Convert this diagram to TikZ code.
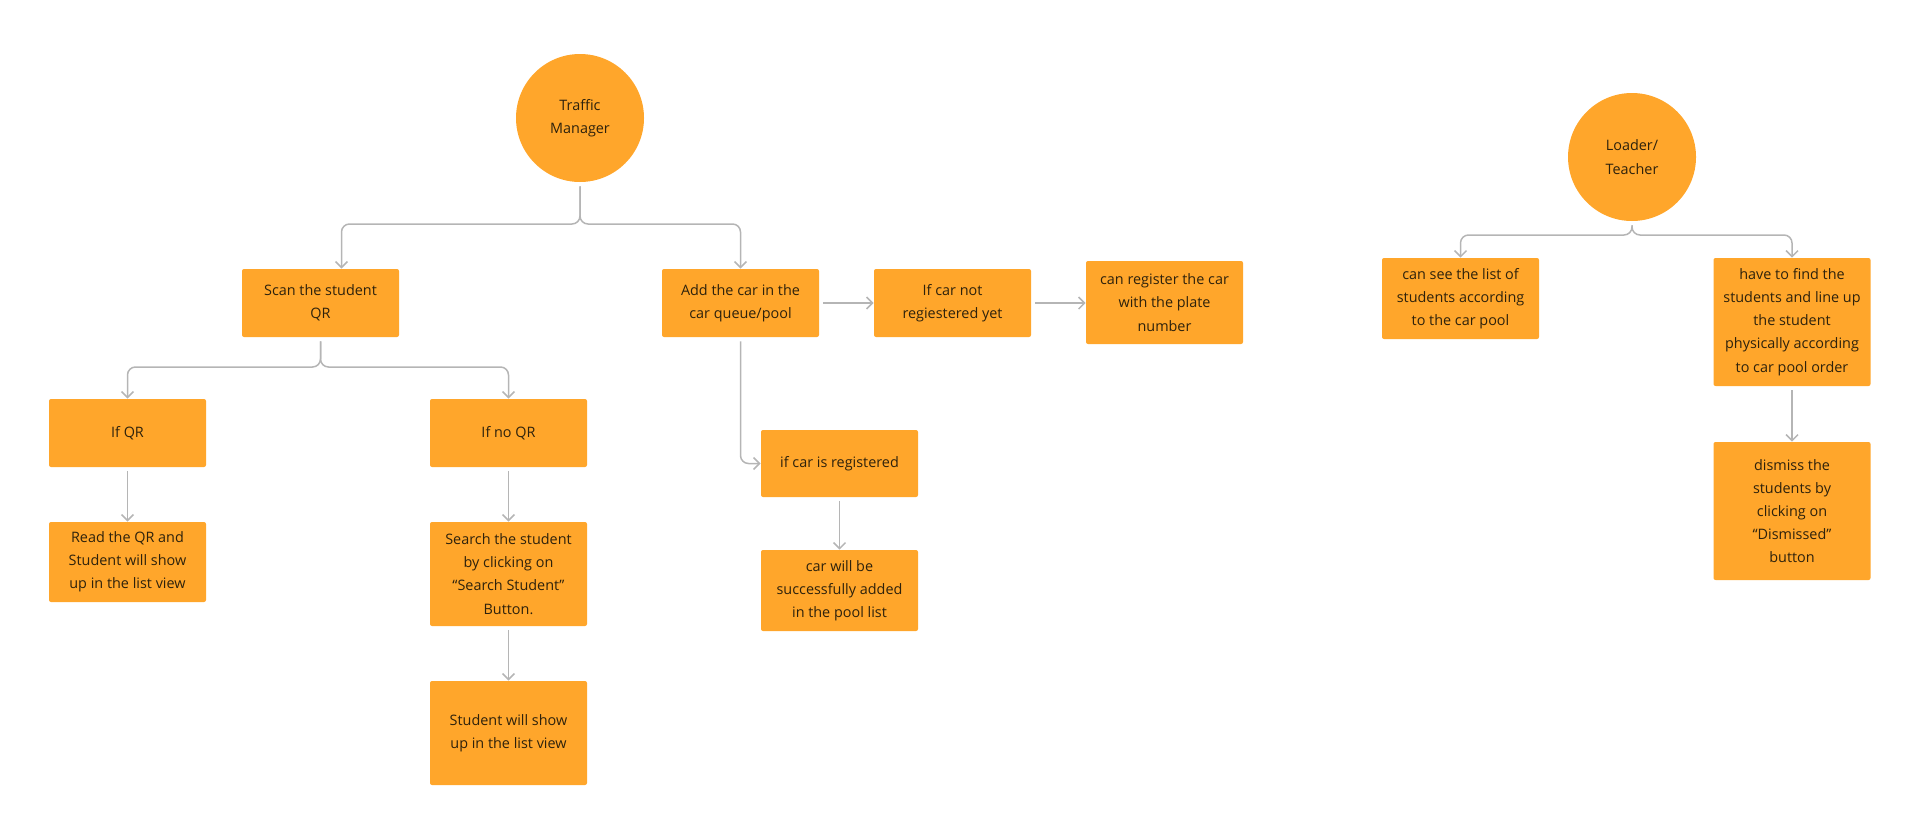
\documentclass[tikz,border=0pt]{standalone}
\usepackage{fontspec}
\setmainfont{Open Sans}
\usetikzlibrary{arrows.meta}
\definecolor{boxorange}{HTML}{FFA62B}
\definecolor{linkgray}{HTML}{B5B5B5}
\definecolor{textdark}{HTML}{2E220C}
\begin{document}
\begin{tikzpicture}[x=0.5pt, y=-0.5pt,
  stepbox/.style={fill=boxorange, rounded corners=1pt, minimum width=78.5pt, inner sep=2pt,
    align=center, text=textdark, font=\fontsize{7.2}{11.6}\selectfont},
  role/.style={circle, fill=boxorange, minimum size=64pt, inner sep=0pt,
    align=center, text=textdark, font=\fontsize{7.2}{11.6}\selectfont},
  link/.style={draw=linkgray, line width=0.75pt, rounded corners=4pt, shorten <=2pt,
    -{Straight Barb[length=3pt, width=6pt]}}]
  \useasboundingbox (0,0) rectangle (1920,835);

  % Traffic manager side
  \node[role] (tm) at (580,118) {Traffic\\Manager};
  \node[stepbox, minimum height=34pt] (scan) at (320.5,303) {Scan the student\\QR};
  \node[stepbox, minimum height=34pt] (addcar) at (740.5,303) {Add the car in the\\car queue/pool};
  \node[stepbox, minimum height=34pt] (notreg) at (952.5,303) {If car not\\regiestered yet};
  \node[stepbox, minimum height=41.5pt] (register) at (1164.5,302.5) {can register the car\\with the plate\\number};

  % QR branch
  \node[stepbox, minimum height=34pt] (ifqr) at (127.5,433) {If QR};
  \node[stepbox, minimum height=34pt] (ifnoqr) at (508.5,433) {If no QR};
  \node[stepbox, minimum height=40pt] (readqr) at (127.5,562) {Read the QR and\\Student will show\\up in the list view};
  \node[stepbox, minimum height=52pt] (search) at (508.5,574) {Search the student\\by clicking on\\“Search Student”\\Button.};
  \node[stepbox, minimum height=52pt] (showup) at (508.5,733) {Student will show\\up in the list view};

  % Registered car branch
  \node[stepbox, minimum height=33.5pt] (isreg) at (839.5,463.5) {if car is registered};
  \node[stepbox, minimum height=40.5pt] (added) at (839.5,590.5) {car will be\\successfully added\\in the pool list};

  % Loader / teacher side
  \node[role] (loader) at (1632,157) {Loader/\\Teacher};
  \node[stepbox, minimum height=40.5pt] (seelist) at (1460.5,298.5) {can see the list of\\students according\\to the car pool};
  \node[stepbox, minimum height=64pt] (findst) at (1792,322) {have to find the\\students and line up\\the student\\physically according\\to car pool order};
  \node[stepbox, minimum height=69pt] (dismiss) at (1792,511) {dismiss the\\students by\\clicking on\\“Dismissed”\\button};

  % Split points
  \coordinate (tmsplit) at (580,224);
  \coordinate (scansplit) at (320.5,367);
  \coordinate (loadsplit) at (1632,235);

  % Connectors
  \draw[link] (tm.south) -- (tmsplit) -| ([xshift=10.5pt]scan.north);
  \draw[link] (tm.south) -- (tmsplit) -| (addcar.north);
  \draw[link] (scan.south) -- (scansplit) -| (ifqr.north);
  \draw[link] (scan.south) -- (scansplit) -| (ifnoqr.north);
  \draw[link] (ifqr) -- (readqr);
  \draw[link] (ifnoqr) -- (search);
  \draw[link] (search) -- (showup);
  \draw[link] (addcar) -- (notreg);
  \draw[link] (notreg) -- (register.west |- notreg.east);
  \draw[link] (addcar.south) |- (isreg.west);
  \draw[link] (isreg) -- (added);
  \draw[link] (loader.south) -- (loadsplit) -| (seelist.north);
  \draw[link] (loader.south) -- (loadsplit) -| (findst.north);
  \draw[link] (findst) -- (dismiss);
\end{tikzpicture}
\end{document}
